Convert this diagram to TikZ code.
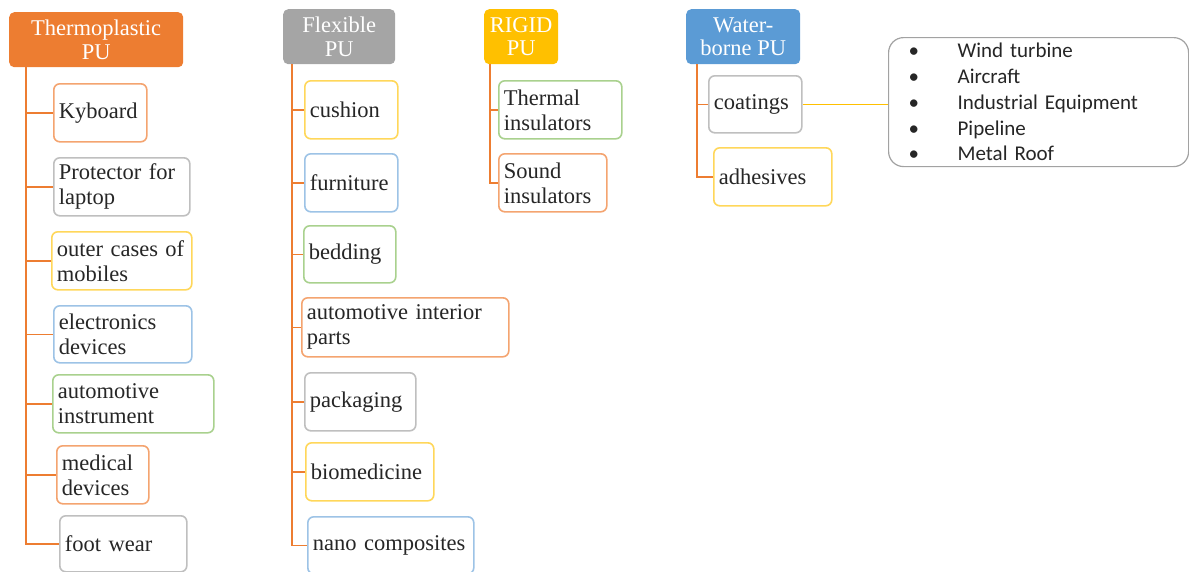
\documentclass[tikz,border=0pt]{standalone}
\usepackage{fontspec}
\setmainfont{Liberation Serif}
\newfontfamily\calib{Carlito}
\definecolor{cor}{HTML}{ED7D31}
\definecolor{cgr}{HTML}{A5A5A5}
\definecolor{cye}{HTML}{FFC000}
\definecolor{cbl}{HTML}{5B9BD5}
\definecolor{bor}{HTML}{F4A470}
\definecolor{bgr}{HTML}{BFBFBF}
\definecolor{bye}{HTML}{FFD75A}
\definecolor{bbl}{HTML}{9DC3E6}
\definecolor{bgn}{HTML}{A9D18E}
\definecolor{txt}{HTML}{262626}
\tikzset{
  hdr/.style={rounded corners=5pt, draw=none, text=white, anchor=north west,
    font=\fontsize{22.5}{23.5}\selectfont, align=center, inner sep=0pt},
  item/.style={rounded corners=6pt, line width=1.6pt, fill=white, anchor=north west,
    font=\fontsize{22.5}{25}\selectfont, align=left, text=txt, inner xsep=5pt, inner ysep=0pt},
  link/.style={draw=cor, line width=1.6pt},
}
\begin{document}
\begin{tikzpicture}[x=1pt,y=-1pt]
\useasboundingbox (0,0) rectangle (1189,571);
% headers
\node[hdr,fill=cor,minimum width=174pt,minimum height=55pt] (tp) at (9,12) {Thermoplastic\\PU};
\node[hdr,fill=cgr,minimum width=112pt,minimum height=55pt] (fl) at (283,9) {Flexible\\PU};
\node[hdr,fill=cye,minimum width=74pt,minimum height=55pt] (rg) at (484,9) {RIGID\\PU};
\node[hdr,fill=cbl,minimum width=114pt,minimum height=55pt] (wb) at (686,9) {Water-\\borne PU};
\coordinate (tpv) at ([xshift=17pt]tp.south west);
\coordinate (flv) at ([xshift=9pt]fl.south west);
\coordinate (rgv) at ([xshift=6pt]rg.south west);
\coordinate (wbv) at ([xshift=11pt]wb.south west);
% thermoplastic items
\node[item,draw=bor,minimum width=93pt,minimum height=58pt,text width=83pt] (k1) at (53,83) {Kyboard};
\node[item,draw=bgr,minimum width=136pt,minimum height=58pt,text width=126pt] (k2) at (53,157) {Protector for\\laptop};
\node[item,draw=bye,minimum width=140pt,minimum height=58pt,text width=130pt] (k3) at (51,231) {outer cases of\\mobiles};
\node[item,draw=bbl,minimum width=138pt,minimum height=57pt,text width=128pt] (k4) at (53,305) {electronics\\devices};
\node[item,draw=bgn,minimum width=161pt,minimum height=58pt,text width=151pt] (k5) at (52,374) {automotive\\instrument};
\node[item,draw=bor,minimum width=92pt,minimum height=58pt,text width=82pt] (k6) at (56,445) {medical\\devices};
\node[item,draw=bgr,minimum width=127pt,minimum height=56pt,text width=117pt] (k7) at (59,515) {foot wear};
% flexible items
\node[item,draw=bye,minimum width=93pt,minimum height=58pt,text width=83pt] (f1) at (304,80) {cushion};
\node[item,draw=bbl,minimum width=93pt,minimum height=58pt,text width=83pt] (f2) at (304,153) {furniture};
\node[item,draw=bgn,minimum width=92pt,minimum height=57pt,text width=82pt] (f3) at (303,225) {bedding};
\node[item,draw=bor,minimum width=207pt,minimum height=59pt,text width=197pt] (f4) at (301,297) {automotive interior\\parts};
\node[item,draw=bgr,minimum width=111pt,minimum height=58pt,text width=101pt] (f5) at (304,372) {packaging};
\node[item,draw=bye,minimum width=128pt,minimum height=58pt,text width=118pt] (f6) at (305,442) {biomedicine};
\node[item,draw=bbl,minimum width=166pt,minimum height=57pt,text width=156pt] (f7) at (307,516) {nano composites};
% rigid items
\node[item,draw=bgn,minimum width=123pt,minimum height=58pt,text width=113pt] (r1) at (498,80) {Thermal\\insulators};
\node[item,draw=bor,minimum width=108pt,minimum height=58pt,text width=98pt] (r2) at (498,153) {Sound\\insulators};
% waterborne items
\node[item,draw=bgr,minimum width=93pt,minimum height=57pt,text width=83pt] (w1) at (708,75) {coatings};
\node[item,draw=bye,minimum width=118pt,minimum height=58pt,text width=108pt] (w2) at (713,147) {adhesives};
% list box
\node[draw=bgr!85!black, line width=1.2pt, rounded corners=15pt, fill=white, anchor=north west,
  minimum width=300pt, minimum height=129pt, text width=300pt, inner sep=0pt, align=left,
  font=\calib\fontsize{21}{25.75}\selectfont, text=txt] (lst) at (888,37)
  {\hspace*{20pt}\makebox[49pt][l]{•}Wind turbine\\
   \hspace*{20pt}\makebox[49pt][l]{•}Aircraft\\
   \hspace*{20pt}\makebox[49pt][l]{•}Industrial Equipment\\
   \hspace*{20pt}\makebox[49pt][l]{•}Pipeline\\
   \hspace*{20pt}\makebox[49pt][l]{•}Metal Roof};
% connectors
\foreach \n in {k1,k2,k3,k4,k5,k6,k7} {\draw[link] (tpv) |- (\n.west);}
\foreach \n in {f1,f2,f3,f4,f5,f6,f7} {\draw[link] (flv) |- (\n.west);}
\foreach \n in {r1,r2} {\draw[link] (rgv) |- (\n.west);}
\foreach \n in {w1,w2} {\draw[link] (wbv) |- (\n.west);}
\draw[cye, line width=1.5pt] (w1.east) -- (w1.east -| lst.west);
\end{tikzpicture}
\end{document}
